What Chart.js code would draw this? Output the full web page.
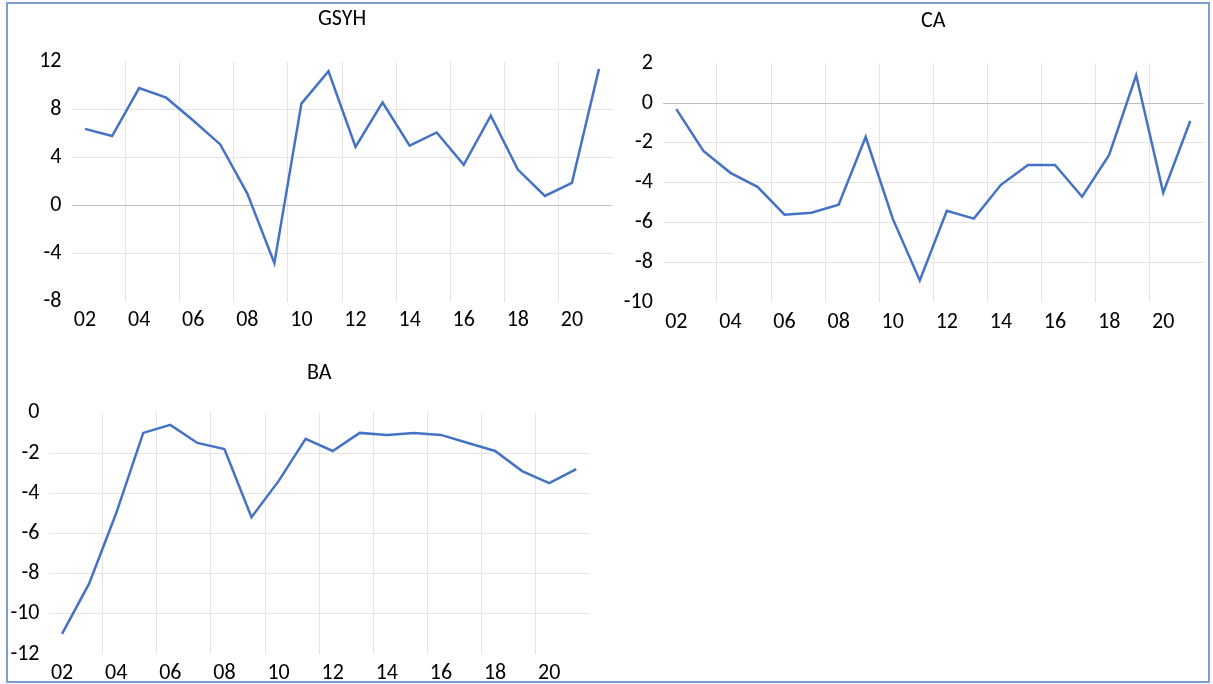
<!DOCTYPE html>
<html>
<head>
<meta charset="utf-8">
<script src="https://cdn.jsdelivr.net/npm/chart.js@4/dist/chart.umd.min.js"></script>
<style>
  html, body { margin: 0; padding: 0; background: #fff; }
  #wrap { position: relative; width: 1213px; height: 684px; overflow: hidden; }
  #frame { position: absolute; left: 6px; top: 2px; width: 1200px; height: 677px; border: 2px solid #7c9fd3; }
  canvas { position: absolute; }
</style>
</head>
<body>
<div id="wrap">
  <div id="frame"></div>
  <canvas id="gsyh" width="620" height="340" style="left:0;top:0"></canvas>
  <canvas id="ca" width="613" height="340" style="left:600px;top:0"></canvas>
  <canvas id="ba" width="600" height="344" style="left:0;top:340px"></canvas>
</div>
<script>
// years 2002-2021, shown as two digits
const years = ['02', '03', '04', '05', '06', '07', '08', '09', '10', '11',
               '12', '13', '14', '15', '16', '17', '18', '19', '20', '21'];

// GSYH (growth, %)
const gsyh = [6.4, 5.8, 9.8, 9.0, 7.1, 5.1, 1.0, -4.8, 8.5, 11.2,
              4.9, 8.6, 5.0, 6.1, 3.4, 7.5, 3.0, 0.8, 1.9, 11.4];

// CA
const ca = [-0.3, -2.4, -3.5, -4.2, -5.6, -5.5, -5.1, -1.7, -5.8, -8.9,
            -5.4, -5.8, -4.1, -3.1, -3.1, -4.7, -2.6, 1.4, -4.5, -0.9];

// BA
const ba = [-11.0, -8.5, -5.0, -1.0, -0.6, -1.5, -1.8, -5.2, -3.4, -1.3,
            -1.9, -1.0, -1.1, -1.0, -1.1, -1.5, -1.9, -2.9, -3.5, -2.8];

// y axis ranges: [min, max, step]
const gsyhRange = [-8, 12, 4];
const caRange = [-10, 2, 2];
const baRange = [-12, 0, 2];

const FONT = 'Calibri, Carlito, "Open Sans", sans-serif';
const GRID = '#e4e4e4';
const ZERO = '#bfbfbf';
const LINE = '#4472c4';

function drawPanel(id, title, values, range, g) {
    const [min, max, step] = range;
    return new Chart(document.getElementById(id), {
        type: 'line',
        data: {
            labels: years,
            datasets: [{
                data: values,
                borderColor: LINE,
                borderWidth: 2.5,
                pointRadius: 0,
                tension: 0,
                fill: false
            }]
        },
        options: {
            responsive: false,
            animation: false,
            devicePixelRatio: 1,
            layout: { padding: { left: 0, right: g.right, top: 0, bottom: 0 } },
            plugins: {
                legend: { display: false },
                tooltip: { enabled: false },
                title: {
                    display: true,
                    text: title,
                    fullSize: false,
                    color: '#000',
                    font: { family: FONT, size: 22, weight: 'normal' },
                    padding: { top: g.titleTop, bottom: g.titleBottom }
                }
            },
            scales: {
                x: {
                    type: 'category',
                    offset: true,
                    border: { display: false },
                    grid: {
                        offset: true,
                        drawTicks: false,
                        lineWidth: 1,
                        // lines every two years, between the year points
                        color: (ctx) => (ctx.index > 0 && ctx.index % 2 === 0) ? GRID : 'rgba(0,0,0,0)'
                    },
                    ticks: {
                        autoSkip: false,
                        maxRotation: 0,
                        padding: g.xPad,
                        color: '#000',
                        font: { family: FONT, size: 22 },
                        callback: (v, i) => i % 2 === 0 ? years[i] : ''
                    },
                    afterFit: (s) => { s.height = g.xHeight; }
                },
                y: {
                    min: min,
                    max: max,
                    border: { display: false },
                    grid: {
                        drawTicks: false,
                        lineWidth: 1,
                        color: (ctx) => {
                            if (!ctx.tick) return 'rgba(0,0,0,0)';
                            const v = ctx.tick.value;
                            if (v === min || v === max) return 'rgba(0,0,0,0)';
                            return v === 0 ? ZERO : GRID;
                        }
                    },
                    ticks: {
                        stepSize: step,
                        padding: g.yPad,
                        color: '#000',
                        font: { family: FONT, size: 22 }
                    },
                    afterFit: (s) => { s.width = g.yWidth; }
                }
            }
        }
    });
}

drawPanel('gsyh', 'GSYH', gsyh, gsyhRange,
    { yWidth: 71.5, yPad: 10, right: 7.5, titleTop: 6.3, titleBottom: 29.0, xHeight: 38.5, xPad: 5.3 });
drawPanel('ca', 'CA', ca, caRange,
    { yWidth: 62.8, yPad: 10, right: 9.2, titleTop: 8.3, titleBottom: 28.6, xHeight: 37.7, xPad: 7.2 });
drawPanel('ba', 'BA', ba, baRange,
    { yWidth: 48.5, yPad: 9, right: 10.2, titleTop: 19.8, titleBottom: 26.6, xHeight: 30, xPad: 6.1 });
</script>
</body>
</html>
